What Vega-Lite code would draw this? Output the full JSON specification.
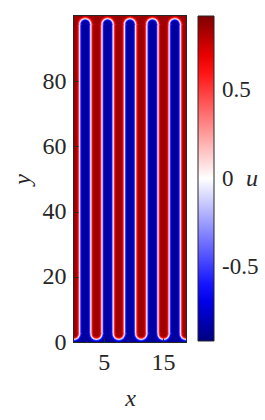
{
  "$schema": "https://vega.github.io/schema/vega-lite/v6.json",
  "width": 112,
  "height": 326,
  "autosize": "none",
  "padding": {"left": 74, "top": 16, "right": 79, "bottom": 78},
  "background": "white",
  "config": {
    "view": {"stroke": "#262626", "strokeWidth": 2},
    "font": "Liberation Serif, serif"
  },
  "datasets": {
    "bands": [
      {"x": 0, "x2": 18.85, "y": 94, "y2": 100, "u": 0.86},
      {"x": 0, "x2": 18.85, "y": 0, "y2": 6, "u": -0.86}
    ],
    "caps": [
      {"x": 1.885, "y": 97.5, "r": 1.392, "u": 0.78}, {"x": 1.885, "y": 97.5, "r": 1.262, "u": 0.62}, {"x": 1.885, "y": 97.5, "r": 1.132, "u": 0.35}, {"x": 1.885, "y": 97.5, "r": 1.012, "u": 0}, {"x": 1.885, "y": 97.5, "r": 0.872, "u": -0.35}, {"x": 1.885, "y": 97.5, "r": 0.752, "u": -0.62}, {"x": 1.885, "y": 97.5, "r": 0.622, "u": -0.78}, {"x": 1.885, "y": 97.5, "r": 0.492, "u": -0.86},
      {"x": 5.655, "y": 97.5, "r": 1.392, "u": 0.78}, {"x": 5.655, "y": 97.5, "r": 1.262, "u": 0.62}, {"x": 5.655, "y": 97.5, "r": 1.132, "u": 0.35}, {"x": 5.655, "y": 97.5, "r": 1.012, "u": 0}, {"x": 5.655, "y": 97.5, "r": 0.872, "u": -0.35}, {"x": 5.655, "y": 97.5, "r": 0.752, "u": -0.62}, {"x": 5.655, "y": 97.5, "r": 0.622, "u": -0.78}, {"x": 5.655, "y": 97.5, "r": 0.492, "u": -0.86},
      {"x": 9.425, "y": 97.5, "r": 1.392, "u": 0.78}, {"x": 9.425, "y": 97.5, "r": 1.262, "u": 0.62}, {"x": 9.425, "y": 97.5, "r": 1.132, "u": 0.35}, {"x": 9.425, "y": 97.5, "r": 1.012, "u": 0}, {"x": 9.425, "y": 97.5, "r": 0.872, "u": -0.35}, {"x": 9.425, "y": 97.5, "r": 0.752, "u": -0.62}, {"x": 9.425, "y": 97.5, "r": 0.622, "u": -0.78}, {"x": 9.425, "y": 97.5, "r": 0.492, "u": -0.86},
      {"x": 13.195, "y": 97.5, "r": 1.392, "u": 0.78}, {"x": 13.195, "y": 97.5, "r": 1.262, "u": 0.62}, {"x": 13.195, "y": 97.5, "r": 1.132, "u": 0.35}, {"x": 13.195, "y": 97.5, "r": 1.012, "u": 0}, {"x": 13.195, "y": 97.5, "r": 0.872, "u": -0.35}, {"x": 13.195, "y": 97.5, "r": 0.752, "u": -0.62}, {"x": 13.195, "y": 97.5, "r": 0.622, "u": -0.78}, {"x": 13.195, "y": 97.5, "r": 0.492, "u": -0.86},
      {"x": 16.965, "y": 97.5, "r": 1.392, "u": 0.78}, {"x": 16.965, "y": 97.5, "r": 1.262, "u": 0.62}, {"x": 16.965, "y": 97.5, "r": 1.132, "u": 0.35}, {"x": 16.965, "y": 97.5, "r": 1.012, "u": 0}, {"x": 16.965, "y": 97.5, "r": 0.872, "u": -0.35}, {"x": 16.965, "y": 97.5, "r": 0.752, "u": -0.62}, {"x": 16.965, "y": 97.5, "r": 0.622, "u": -0.78}, {"x": 16.965, "y": 97.5, "r": 0.492, "u": -0.86},
      {"x": 0, "y": 2.5, "r": 1.392, "u": -0.78}, {"x": 0, "y": 2.5, "r": 1.262, "u": -0.62}, {"x": 0, "y": 2.5, "r": 1.132, "u": -0.35}, {"x": 0, "y": 2.5, "r": 1.012, "u": 0}, {"x": 0, "y": 2.5, "r": 0.872, "u": 0.35}, {"x": 0, "y": 2.5, "r": 0.752, "u": 0.62}, {"x": 0, "y": 2.5, "r": 0.622, "u": 0.78}, {"x": 0, "y": 2.5, "r": 0.492, "u": 0.86},
      {"x": 3.77, "y": 2.5, "r": 1.392, "u": -0.78}, {"x": 3.77, "y": 2.5, "r": 1.262, "u": -0.62}, {"x": 3.77, "y": 2.5, "r": 1.132, "u": -0.35}, {"x": 3.77, "y": 2.5, "r": 1.012, "u": 0}, {"x": 3.77, "y": 2.5, "r": 0.872, "u": 0.35}, {"x": 3.77, "y": 2.5, "r": 0.752, "u": 0.62}, {"x": 3.77, "y": 2.5, "r": 0.622, "u": 0.78}, {"x": 3.77, "y": 2.5, "r": 0.492, "u": 0.86},
      {"x": 7.54, "y": 2.5, "r": 1.392, "u": -0.78}, {"x": 7.54, "y": 2.5, "r": 1.262, "u": -0.62}, {"x": 7.54, "y": 2.5, "r": 1.132, "u": -0.35}, {"x": 7.54, "y": 2.5, "r": 1.012, "u": 0}, {"x": 7.54, "y": 2.5, "r": 0.872, "u": 0.35}, {"x": 7.54, "y": 2.5, "r": 0.752, "u": 0.62}, {"x": 7.54, "y": 2.5, "r": 0.622, "u": 0.78}, {"x": 7.54, "y": 2.5, "r": 0.492, "u": 0.86},
      {"x": 11.31, "y": 2.5, "r": 1.392, "u": -0.78}, {"x": 11.31, "y": 2.5, "r": 1.262, "u": -0.62}, {"x": 11.31, "y": 2.5, "r": 1.132, "u": -0.35}, {"x": 11.31, "y": 2.5, "r": 1.012, "u": 0}, {"x": 11.31, "y": 2.5, "r": 0.872, "u": 0.35}, {"x": 11.31, "y": 2.5, "r": 0.752, "u": 0.62}, {"x": 11.31, "y": 2.5, "r": 0.622, "u": 0.78}, {"x": 11.31, "y": 2.5, "r": 0.492, "u": 0.86},
      {"x": 15.08, "y": 2.5, "r": 1.392, "u": -0.78}, {"x": 15.08, "y": 2.5, "r": 1.262, "u": -0.62}, {"x": 15.08, "y": 2.5, "r": 1.132, "u": -0.35}, {"x": 15.08, "y": 2.5, "r": 1.012, "u": 0}, {"x": 15.08, "y": 2.5, "r": 0.872, "u": 0.35}, {"x": 15.08, "y": 2.5, "r": 0.752, "u": 0.62}, {"x": 15.08, "y": 2.5, "r": 0.622, "u": 0.78}, {"x": 15.08, "y": 2.5, "r": 0.492, "u": 0.86},
      {"x": 18.85, "y": 2.5, "r": 1.392, "u": -0.78}, {"x": 18.85, "y": 2.5, "r": 1.262, "u": -0.62}, {"x": 18.85, "y": 2.5, "r": 1.132, "u": -0.35}, {"x": 18.85, "y": 2.5, "r": 1.012, "u": 0}, {"x": 18.85, "y": 2.5, "r": 0.872, "u": 0.35}, {"x": 18.85, "y": 2.5, "r": 0.752, "u": 0.62}, {"x": 18.85, "y": 2.5, "r": 0.622, "u": 0.78}, {"x": 18.85, "y": 2.5, "r": 0.492, "u": 0.86}
    ],
    "cols": [
      {"x": 0, "x2": 18.85, "y": 2.5, "y2": 97.5, "u": 0.86},
      {"x": 0.492, "x2": 18.85, "y": 2.5, "y2": 97.5, "u": 0.78},
      {"x": 0.622, "x2": 18.85, "y": 2.5, "y2": 97.5, "u": 0.62},
      {"x": 0.752, "x2": 18.85, "y": 2.5, "y2": 97.5, "u": 0.35},
      {"x": 0.872, "x2": 18.85, "y": 2.5, "y2": 97.5, "u": 0},
      {"x": 1.012, "x2": 18.85, "y": 2.5, "y2": 97.5, "u": -0.35},
      {"x": 1.132, "x2": 18.85, "y": 2.5, "y2": 97.5, "u": -0.62},
      {"x": 1.262, "x2": 18.85, "y": 2.5, "y2": 97.5, "u": -0.78},
      {"x": 1.392, "x2": 18.85, "y": 2.5, "y2": 97.5, "u": -0.86},
      {"x": 2.377, "x2": 18.85, "y": 2.5, "y2": 97.5, "u": -0.78},
      {"x": 2.507, "x2": 18.85, "y": 2.5, "y2": 97.5, "u": -0.62},
      {"x": 2.637, "x2": 18.85, "y": 2.5, "y2": 97.5, "u": -0.35},
      {"x": 2.757, "x2": 18.85, "y": 2.5, "y2": 97.5, "u": 0},
      {"x": 2.897, "x2": 18.85, "y": 2.5, "y2": 97.5, "u": 0.35},
      {"x": 3.017, "x2": 18.85, "y": 2.5, "y2": 97.5, "u": 0.62},
      {"x": 3.147, "x2": 18.85, "y": 2.5, "y2": 97.5, "u": 0.78},
      {"x": 3.277, "x2": 18.85, "y": 2.5, "y2": 97.5, "u": 0.86},
      {"x": 4.262, "x2": 18.85, "y": 2.5, "y2": 97.5, "u": 0.78},
      {"x": 4.392, "x2": 18.85, "y": 2.5, "y2": 97.5, "u": 0.62},
      {"x": 4.522, "x2": 18.85, "y": 2.5, "y2": 97.5, "u": 0.35},
      {"x": 4.642, "x2": 18.85, "y": 2.5, "y2": 97.5, "u": 0},
      {"x": 4.782, "x2": 18.85, "y": 2.5, "y2": 97.5, "u": -0.35},
      {"x": 4.902, "x2": 18.85, "y": 2.5, "y2": 97.5, "u": -0.62},
      {"x": 5.032, "x2": 18.85, "y": 2.5, "y2": 97.5, "u": -0.78},
      {"x": 5.162, "x2": 18.85, "y": 2.5, "y2": 97.5, "u": -0.86},
      {"x": 6.147, "x2": 18.85, "y": 2.5, "y2": 97.5, "u": -0.78},
      {"x": 6.277, "x2": 18.85, "y": 2.5, "y2": 97.5, "u": -0.62},
      {"x": 6.407, "x2": 18.85, "y": 2.5, "y2": 97.5, "u": -0.35},
      {"x": 6.527, "x2": 18.85, "y": 2.5, "y2": 97.5, "u": 0},
      {"x": 6.667, "x2": 18.85, "y": 2.5, "y2": 97.5, "u": 0.35},
      {"x": 6.787, "x2": 18.85, "y": 2.5, "y2": 97.5, "u": 0.62},
      {"x": 6.917, "x2": 18.85, "y": 2.5, "y2": 97.5, "u": 0.78},
      {"x": 7.047, "x2": 18.85, "y": 2.5, "y2": 97.5, "u": 0.86},
      {"x": 8.032, "x2": 18.85, "y": 2.5, "y2": 97.5, "u": 0.78},
      {"x": 8.162, "x2": 18.85, "y": 2.5, "y2": 97.5, "u": 0.62},
      {"x": 8.292, "x2": 18.85, "y": 2.5, "y2": 97.5, "u": 0.35},
      {"x": 8.412, "x2": 18.85, "y": 2.5, "y2": 97.5, "u": 0},
      {"x": 8.552, "x2": 18.85, "y": 2.5, "y2": 97.5, "u": -0.35},
      {"x": 8.672, "x2": 18.85, "y": 2.5, "y2": 97.5, "u": -0.62},
      {"x": 8.802, "x2": 18.85, "y": 2.5, "y2": 97.5, "u": -0.78},
      {"x": 8.932, "x2": 18.85, "y": 2.5, "y2": 97.5, "u": -0.86},
      {"x": 9.917, "x2": 18.85, "y": 2.5, "y2": 97.5, "u": -0.78},
      {"x": 10.047, "x2": 18.85, "y": 2.5, "y2": 97.5, "u": -0.62},
      {"x": 10.177, "x2": 18.85, "y": 2.5, "y2": 97.5, "u": -0.35},
      {"x": 10.297, "x2": 18.85, "y": 2.5, "y2": 97.5, "u": 0},
      {"x": 10.437, "x2": 18.85, "y": 2.5, "y2": 97.5, "u": 0.35},
      {"x": 10.557, "x2": 18.85, "y": 2.5, "y2": 97.5, "u": 0.62},
      {"x": 10.687, "x2": 18.85, "y": 2.5, "y2": 97.5, "u": 0.78},
      {"x": 10.817, "x2": 18.85, "y": 2.5, "y2": 97.5, "u": 0.86},
      {"x": 11.802, "x2": 18.85, "y": 2.5, "y2": 97.5, "u": 0.78},
      {"x": 11.932, "x2": 18.85, "y": 2.5, "y2": 97.5, "u": 0.62},
      {"x": 12.062, "x2": 18.85, "y": 2.5, "y2": 97.5, "u": 0.35},
      {"x": 12.182, "x2": 18.85, "y": 2.5, "y2": 97.5, "u": 0},
      {"x": 12.322, "x2": 18.85, "y": 2.5, "y2": 97.5, "u": -0.35},
      {"x": 12.442, "x2": 18.85, "y": 2.5, "y2": 97.5, "u": -0.62},
      {"x": 12.572, "x2": 18.85, "y": 2.5, "y2": 97.5, "u": -0.78},
      {"x": 12.702, "x2": 18.85, "y": 2.5, "y2": 97.5, "u": -0.86},
      {"x": 13.687, "x2": 18.85, "y": 2.5, "y2": 97.5, "u": -0.78},
      {"x": 13.817, "x2": 18.85, "y": 2.5, "y2": 97.5, "u": -0.62},
      {"x": 13.947, "x2": 18.85, "y": 2.5, "y2": 97.5, "u": -0.35},
      {"x": 14.067, "x2": 18.85, "y": 2.5, "y2": 97.5, "u": 0},
      {"x": 14.207, "x2": 18.85, "y": 2.5, "y2": 97.5, "u": 0.35},
      {"x": 14.327, "x2": 18.85, "y": 2.5, "y2": 97.5, "u": 0.62},
      {"x": 14.457, "x2": 18.85, "y": 2.5, "y2": 97.5, "u": 0.78},
      {"x": 14.587, "x2": 18.85, "y": 2.5, "y2": 97.5, "u": 0.86},
      {"x": 15.572, "x2": 18.85, "y": 2.5, "y2": 97.5, "u": 0.78},
      {"x": 15.702, "x2": 18.85, "y": 2.5, "y2": 97.5, "u": 0.62},
      {"x": 15.832, "x2": 18.85, "y": 2.5, "y2": 97.5, "u": 0.35},
      {"x": 15.952, "x2": 18.85, "y": 2.5, "y2": 97.5, "u": 0},
      {"x": 16.092, "x2": 18.85, "y": 2.5, "y2": 97.5, "u": -0.35},
      {"x": 16.212, "x2": 18.85, "y": 2.5, "y2": 97.5, "u": -0.62},
      {"x": 16.342, "x2": 18.85, "y": 2.5, "y2": 97.5, "u": -0.78},
      {"x": 16.472, "x2": 18.85, "y": 2.5, "y2": 97.5, "u": -0.86},
      {"x": 17.457, "x2": 18.85, "y": 2.5, "y2": 97.5, "u": -0.78},
      {"x": 17.587, "x2": 18.85, "y": 2.5, "y2": 97.5, "u": -0.62},
      {"x": 17.717, "x2": 18.85, "y": 2.5, "y2": 97.5, "u": -0.35},
      {"x": 17.837, "x2": 18.85, "y": 2.5, "y2": 97.5, "u": 0},
      {"x": 17.977, "x2": 18.85, "y": 2.5, "y2": 97.5, "u": 0.35},
      {"x": 18.097, "x2": 18.85, "y": 2.5, "y2": 97.5, "u": 0.62},
      {"x": 18.227, "x2": 18.85, "y": 2.5, "y2": 97.5, "u": 0.78},
      {"x": 18.357, "x2": 18.85, "y": 2.5, "y2": 97.5, "u": 0.86}
    ]
  },
  "encoding": {
    "x": {
      "field": "x", "type": "quantitative",
      "scale": {"domain": [0, 18.85], "nice": false, "zero": false},
      "axis": {"title": "x", "values": [5, 15], "grid": false, "domain": false, "ticks": true, "tickSize": -4, "tickColor": "#262626", "labelPadding": 12, "labelFont": "Liberation Serif, serif", "labelFontSize": 24, "labelColor": "#262626", "titleFont": "Liberation Serif, serif", "titleFontSize": 24, "titleFontStyle": "italic", "titleFontWeight": "normal", "titleColor": "#262626", "titlePadding": 12, "zindex": 1}
    },
    "y": {
      "field": "y", "type": "quantitative",
      "scale": {"domain": [0, 100], "nice": false, "zero": false},
      "axis": {"title": "y", "values": [0, 20, 40, 60, 80], "grid": false, "domain": false, "ticks": true, "tickSize": -4, "tickColor": "#262626", "labelPadding": 12, "labelFont": "Liberation Serif, serif", "labelFontSize": 24, "labelColor": "#262626", "titleFont": "Liberation Serif, serif", "titleFontSize": 24, "titleFontStyle": "italic", "titleFontWeight": "normal", "titleColor": "#262626", "titlePadding": 8, "zindex": 1}
    },
    "color": {
      "field": "u", "type": "quantitative",
      "scale": {"domain": [-0.923, -0.65, 0, 0.65, 0.923], "range": ["#000080", "#0000ff", "#ffffff", "#ff0000", "#800000"], "interpolate": "rgb"},
      "legend": {
        "title": "u", "orient": "right", "offset": 12, "padding": 0,
        "gradientLength": 325, "gradientThickness": 16, "gradientStrokeColor": "#262626", "gradientStrokeWidth": 1,
        "values": [-0.5, 0, 0.5],
        "labelFont": "Liberation Serif, serif", "labelFontSize": 23, "labelColor": "#262626", "labelOffset": 8, "labelOverlap": false,
        "labelExpr": "datum.value < 0 ? '-' + format(-datum.value, '.1f') : (datum.value == 0 ? '0' : format(datum.value, '.1f'))",
        "titleOrient": "right", "titleAnchor": "middle", "titlePadding": -12,
        "titleFont": "Liberation Serif, serif", "titleFontSize": 24, "titleFontStyle": "italic", "titleFontWeight": "normal", "titleColor": "#262626",
        "encode": {"title": {"update": {"angle": {"value": 0}, "align": {"value": "left"}, "baseline": {"value": "middle"}}}}
      }
    }
  },
  "layer": [
    {
      "data": {"name": "bands"},
      "mark": {"type": "rect", "clip": true},
      "encoding": {"x2": {"field": "x2"}, "y2": {"field": "y2"}}
    },
    {
      "data": {"name": "caps"},
      "mark": {"type": "point", "shape": "circle", "filled": true, "opacity": 1, "strokeWidth": 0, "clip": true},
      "encoding": {
        "size": {"field": "r", "type": "quantitative", "scale": {"type": "pow", "exponent": 2, "domain": [0, 1], "range": [0, 141.2]}, "legend": null},
        "order": {"field": "r", "sort": "descending"}
      }
    },
    {
      "data": {"name": "cols"},
      "mark": {"type": "rect", "clip": true},
      "encoding": {"x2": {"field": "x2"}, "y2": {"field": "y2"}}
    }
  ]
}
